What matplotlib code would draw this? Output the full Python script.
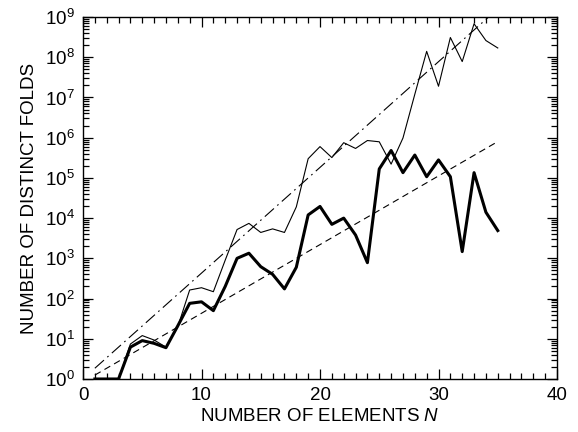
import matplotlib
matplotlib.use("Agg")
import matplotlib.pyplot as plt
from matplotlib.ticker import MultipleLocator, LogLocator, NullFormatter

plt.rcParams["font.family"] = ["Liberation Sans", "DejaVu Sans"]
plt.rcParams["mathtext.fontset"] = "custom"
plt.rcParams["mathtext.rm"] = "Liberation Sans"
plt.rcParams["mathtext.it"] = "Liberation Sans:italic"

# number of elements N
n_elements = list(range(1, 36))

# distinct folds, thin curve
folds_thin = [1, 1, 1, 7.4, 12, 9.3, 6.2, 20, 163, 186, 148, 900, 5200, 7400, 4400,
              5400, 4400, 1.9e4, 3.0e5, 6.0e5, 3.2e5, 7.5e5, 5.4e5, 8.5e5, 7.9e5,
              2.2e5, 9.8e5, 1.2e7, 1.4e8, 1.9e7, 3.1e8, 7.8e7, 6.8e8, 2.6e8, 1.7e8]

# distinct folds, thick curve
folds_thick = [1, 1, 1, 6.2, 9, 7.7, 6, 21, 76, 83, 50, 200, 1000, 1340, 620,
               400, 174, 600, 1.2e4, 1.95e4, 7000, 1.0e4, 3800, 780, 1.67e5,
               4.8e5, 1.35e5, 3.7e5, 1.07e5, 2.8e5, 1.07e5, 1470, 1.35e5, 1.4e4, 4900]

# fitted exponential trends (end points)
fit_n = [1, 35]
fit_upper = [1.85, 1.6e9]
fit_lower = [1.25, 8.0e5]

fig = plt.figure(figsize=(5.78, 4.32), dpi=100)
ax = fig.add_axes([0.1436, 0.1227, 0.8201, 0.8379])

ax.plot(fit_n, fit_upper, color="black", lw=0.8, ls=(0, (11, 4, 1.5, 4)))
ax.plot(fit_n, fit_lower, color="black", lw=0.8, ls=(0, (6, 4)))
ax.plot(n_elements, folds_thin, color="black", lw=0.8)
ax.plot(n_elements, folds_thick, color="black", lw=2.2)

ax.set_yscale("log")
ax.set_xlim(0, 40)
ax.set_ylim(1, 1e9)

ax.xaxis.set_major_locator(MultipleLocator(10))
ax.xaxis.set_minor_locator(MultipleLocator(1))
ax.yaxis.set_major_locator(LogLocator(base=10, numticks=20))
ax.yaxis.set_minor_locator(LogLocator(base=10, subs=range(2, 10), numticks=20))
ax.yaxis.set_minor_formatter(NullFormatter())

ax.tick_params(which="both", direction="in", top=True, right=True, labelsize=13.5, width=0.9)
ax.tick_params(which="major", length=7, pad=6)
ax.tick_params(which="minor", length=4)
for spine in ax.spines.values():
    spine.set_linewidth(1.0)

ax.set_xlabel(r"NUMBER OF ELEMENTS $\mathit{N}$", fontsize=13.5, labelpad=3)
ax.set_ylabel("NUMBER OF DISTINCT FOLDS", fontsize=13.5, labelpad=5)

fig.savefig("out.png", dpi=100)
